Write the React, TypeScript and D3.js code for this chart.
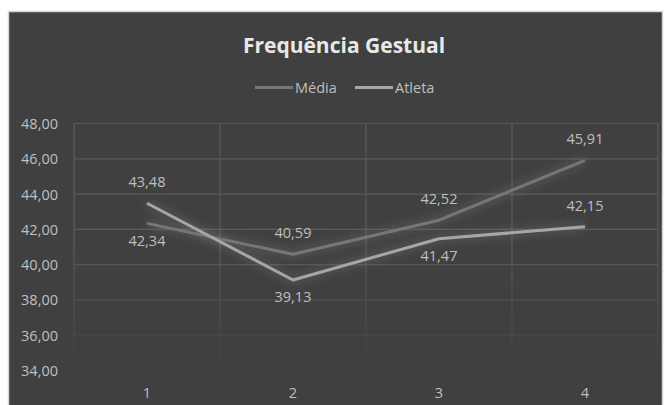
import React from "react";
import * as d3 from "d3";

const categories = ["1", "2", "3", "4"];
const mediaValues = [42.34, 40.59, 42.52, 45.91];
const atletaValues = [43.48, 39.13, 41.47, 42.15];
const yTicks = [34, 36, 38, 40, 42, 44, 46, 48];
const seriesNames = ["Média", "Atleta"];
// label placement per point: "above" or "below"
const mediaLabelPos = ["below", "above", "above", "above"];
const atletaLabelPos = ["above", "below", "below", "above"];

const W = 665;
const H = 405;
const FONT = "'Open Sans', 'Noto Sans', sans-serif";
const FS = 14.5;

export default function App() {
  const x = d3.scaleBand<string>().domain(categories).range([74, 658]);
  const y = d3.scaleLinear().domain([34, 48]).range([370.5, 123.5]);
  const cx = (c: string) => (x(c) as number) + x.bandwidth() / 2;
  const line = d3
    .line<number>()
    .x((_, i) => cx(categories[i]))
    .y((d) => y(d));
  const fmt = (v: number) => d3.format(".2f")(v).replace(".", ",");

  const series = [
    { name: seriesNames[0], values: mediaValues, pos: mediaLabelPos, color: "#767676" },
    { name: seriesNames[1], values: atletaValues, pos: atletaLabelPos, color: "#a6a6a6" },
  ];

  const xEdges = [...categories.map((c) => x(c) as number), 658];

  return (
    <svg
      width={W}
      height={H}
      style={{ position: "absolute", left: 0, top: 0, background: "#ffffff" }}
    >
      <defs>
        <linearGradient id="gridFade" gradientUnits="userSpaceOnUse" x1="0" y1="123" x2="0" y2="372">
          <stop offset="0" stopColor="#5a5a5a" stopOpacity="1" />
          <stop offset="0.5" stopColor="#5a5a5a" stopOpacity="1" />
          <stop offset="1" stopColor="#5a5a5a" stopOpacity="0" />
        </linearGradient>
        <filter id="glow" x="-20%" y="-50%" width="140%" height="200%">
          <feGaussianBlur stdDeviation="5" />
        </filter>
      </defs>
      <rect x={8.5} y={11.5} width={654} height={400} fill="#404040" stroke="#d4d4d4" strokeWidth={1.5} />

      {/* gridlines */}
      <g stroke="url(#gridFade)" strokeWidth={1.2}>
        {yTicks.map((t) => (
          <line key={"h" + t} x1={74} x2={658} y1={y(t)} y2={y(t)} />
        ))}
        {xEdges.map((e, i) => (
          <line key={"v" + i} x1={e} x2={e} y1={y(48)} y2={y(34)} />
        ))}
      </g>

      {/* title */}
      <text x={344} y={53} textAnchor="middle" fill="#e8e8e8" fontFamily={FONT} fontWeight="bold" fontSize={21}>
        Frequência Gestual
      </text>

      {/* legend */}
      {series.map((s, i) => {
        const lx = i === 0 ? 255 : 355;
        return (
          <g key={s.name}>
            <line x1={lx} x2={lx + 38} y1={87.5} y2={87.5} stroke={s.color} strokeWidth={3} />
            <text x={lx + 40} y={87.5} dominantBaseline="central" fill="#bfbfbf" fontFamily={FONT} fontSize={FS}>
              {s.name}
            </text>
          </g>
        );
      })}

      {/* y axis labels */}
      {yTicks.map((t) => (
        <text key={"yl" + t} x={58} y={y(t)} textAnchor="end" dominantBaseline="central" fill="#bfbfbf" fontFamily={FONT} fontSize={FS}>
          {fmt(t)}
        </text>
      ))}

      {/* x axis labels */}
      {categories.map((c) => (
        <text key={"xl" + c} x={cx(c)} y={398} textAnchor="middle" fill="#bfbfbf" fontFamily={FONT} fontSize={FS}>
          {c}
        </text>
      ))}

      {/* glow */}
      {series.map((s) => (
        <path key={"g" + s.name} d={line(s.values) as string} fill="none" stroke="#9a9a9a" strokeOpacity={0.22} strokeWidth={8} filter="url(#glow)" />
      ))}

      {/* lines */}
      {series.map((s) => (
        <path key={"l" + s.name} d={line(s.values) as string} fill="none" stroke={s.color} strokeWidth={3} strokeLinejoin="round" />
      ))}

      {/* data labels */}
      {series.map((s) =>
        s.values.map((v, i) => (
          <text
            key={s.name + i}
            x={cx(categories[i])}
            y={y(v) + (s.pos[i] === "above" ? -21.5 : 17)}
            textAnchor="middle"
            dominantBaseline="central"
            fill="#bfbfbf"
            fontFamily={FONT}
            fontSize={FS}
          >
            {fmt(v)}
          </text>
        ))
      )}
    </svg>
  );
}
